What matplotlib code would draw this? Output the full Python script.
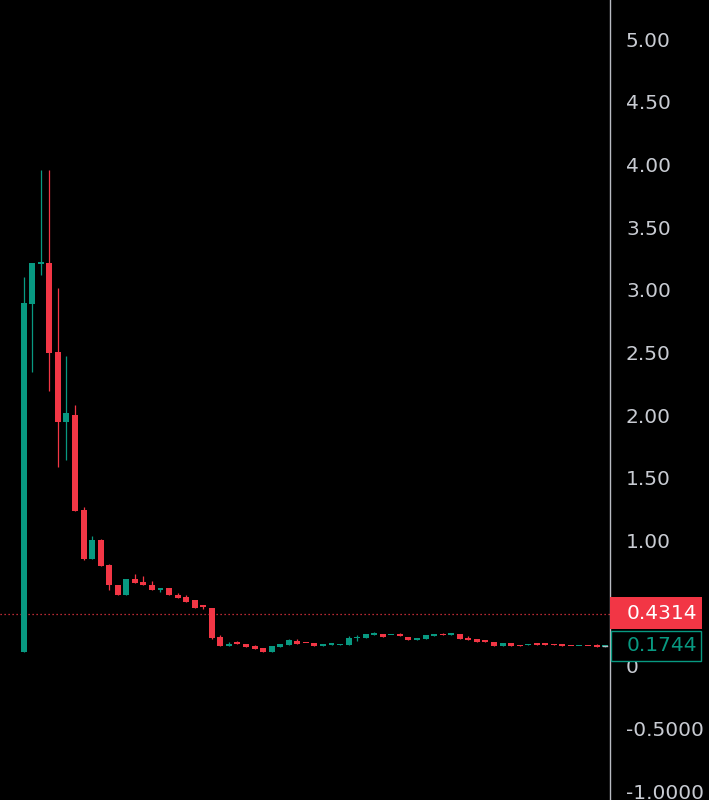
import matplotlib
matplotlib.use("Agg")
import matplotlib.pyplot as plt
from matplotlib.patches import Rectangle
from matplotlib.lines import Line2D
from matplotlib.transforms import blended_transform_factory, ScaledTranslation

# ---- data (OHLC per candle) ----
opens = [0.13, 2.90, 3.22, 3.23, 2.52, 1.96, 2.02, 1.26, 0.87, 1.02,
         0.82, 0.665, 0.58, 0.71, 0.685, 0.66, 0.62, 0.64, 0.585, 0.565,
         0.54, 0.493, 0.48, 0.245, 0.175, 0.20, 0.195, 0.175, 0.16, 0.128,
         0.17, 0.183, 0.218, 0.203, 0.20, 0.178, 0.186, 0.18, 0.186, 0.238,
         0.236, 0.266, 0.268, 0.26, 0.262, 0.25, 0.22, 0.234, 0.258, 0.265,
         0.263, 0.268, 0.24, 0.228, 0.215, 0.21, 0.173, 0.20, 0.18, 0.18,
         0.192, 0.192, 0.185, 0.18, 0.178, 0.174, 0.178, 0.175, 0.171]
highs = [3.12, 3.23, 3.97, 3.97, 3.03, 2.49, 2.10, 1.28, 1.05, 1.03,
         0.83, 0.665, 0.71, 0.75, 0.73, 0.69, 0.64, 0.64, 0.595, 0.58,
         0.54, 0.505, 0.48, 0.26, 0.21, 0.215, 0.195, 0.18, 0.16, 0.173,
         0.195, 0.23, 0.23, 0.203, 0.20, 0.182, 0.20, 0.195, 0.255, 0.26,
         0.268, 0.283, 0.268, 0.265, 0.275, 0.25, 0.24, 0.26, 0.262, 0.28,
         0.268, 0.268, 0.255, 0.228, 0.215, 0.21, 0.20, 0.20, 0.18, 0.19,
         0.192, 0.192, 0.195, 0.18, 0.178, 0.178, 0.178, 0.19, 0.18]
lows = [0.13, 2.36, 3.13, 2.21, 1.60, 1.66, 1.25, 0.86, 0.87, 0.81,
        0.62, 0.58, 0.58, 0.675, 0.66, 0.62, 0.605, 0.58, 0.56, 0.53,
        0.48, 0.47, 0.23, 0.175, 0.175, 0.19, 0.17, 0.155, 0.125, 0.128,
        0.17, 0.183, 0.19, 0.197, 0.175, 0.178, 0.183, 0.18, 0.186, 0.215,
        0.236, 0.26, 0.245, 0.26, 0.257, 0.22, 0.22, 0.234, 0.258, 0.26,
        0.263, 0.234, 0.223, 0.21, 0.21, 0.173, 0.173, 0.173, 0.175, 0.18,
        0.187, 0.187, 0.18, 0.176, 0.174, 0.174, 0.174, 0.165, 0.171]
closes = [2.91, 3.23, 3.24, 2.51, 1.96, 2.03, 1.25, 0.87, 1.02, 0.81,
          0.66, 0.58, 0.71, 0.675, 0.66, 0.62, 0.64, 0.58, 0.56, 0.53,
          0.48, 0.487, 0.235, 0.175, 0.195, 0.195, 0.17, 0.155, 0.125, 0.173,
          0.195, 0.22, 0.19, 0.197, 0.175, 0.182, 0.19, 0.195, 0.24, 0.242,
          0.268, 0.27, 0.245, 0.265, 0.257, 0.22, 0.24, 0.26, 0.262, 0.26,
          0.268, 0.234, 0.223, 0.21, 0.21, 0.173, 0.20, 0.173, 0.175, 0.19,
          0.187, 0.187, 0.18, 0.176, 0.174, 0.178, 0.174, 0.171, 0.1744]

# the 0.5000 label sits under the red price tag in the reference, so it is not shown
tick_values = [-1.0, -0.5, 0.0, 1.0, 1.5, 2.0, 2.5, 3.0, 3.5, 4.0, 4.5, 5.0]
tick_labels = ["-1.0000", "-0.5000", "0", "1.00", "1.50", "2.00",
               "2.50", "3.00", "3.50", "4.00", "4.50", "5.00"]

line_price = 0.4314
last_price = 0.1744

UP = "#089981"
DOWN = "#f23645"
BG = "#000000"
TXT = "#c8cbd2"

fig = plt.figure(figsize=(7.09, 8.0), dpi=100, facecolor=BG)
ax = fig.add_axes([0, 0, 610 / 709, 1.0])
ax.set_facecolor(BG)

n = len(opens)
xs = list(range(n))
min_h = 0.012
for i in xs:
    o, h, l, c = opens[i], highs[i], lows[i], closes[i]
    col = UP if c >= o else DOWN
    ax.vlines(i, l, h, color=col, linewidth=0.9, zorder=2)
    bottom = min(o, c)
    height = max(abs(c - o), min_h)
    ax.bar(i, height, bottom=bottom, width=0.7, color=col, linewidth=0, zorder=3)

ax.set_xlim(-2.77, 68.57)
ax.set_ylim(-1.053, 5.327)

# dotted price line
ax.axhline(line_price, color=DOWN, linewidth=0.9, linestyle=(0, (1, 2.2)), zorder=1)

# axis styling
for s in ["top", "left", "bottom"]:
    ax.spines[s].set_visible(False)
ax.spines["right"].set_color("#b8bbc2")
ax.spines["right"].set_linewidth(1.0)
ax.set_xticks([])
ax.yaxis.tick_right()
ax.set_yticks(tick_values)
ax.set_yticklabels(tick_labels)
ax.tick_params(axis="y", length=0, pad=11.5, labelsize=14.5, labelcolor=TXT)
shift = ScaledTranslation(0, 2 / 100, fig.dpi_scale_trans)
for lab in ax.get_yticklabels():
    lab.set_transform(lab.get_transform() + shift)

# price labels on the scale
tr = blended_transform_factory(ax.transAxes, ax.transData)
x1 = 701.7 / 610.0
ax.add_patch(Rectangle((1.0, line_price - 0.1225), x1 - 1.0, 0.255,
                       transform=tr, facecolor=DOWN, edgecolor="none",
                       clip_on=False, zorder=10))
ax.text(627 / 610.0, line_price + 0.003, f"{line_price:.4f}", transform=tr,
        color="white", fontsize=14.5, fontweight="medium",
        ha="left", va="center", clip_on=False, zorder=11)

ax.add_patch(Rectangle((1.0 + 1 / 610, last_price - 0.122), x1 - 1.0 - 2 / 610, 0.244,
                       transform=tr, facecolor=BG, edgecolor=UP, linewidth=1.0,
                       clip_on=False, zorder=10))
ax.text(627 / 610.0, last_price + 0.003, f"{last_price:.4f}", transform=tr,
        color=UP, fontsize=14.5, ha="left", va="center", clip_on=False, zorder=11)
ax.add_line(Line2D([603 / 610, 607 / 610], [last_price, last_price], transform=tr,
                   color="#b8bbc2", linewidth=1.0, clip_on=False, zorder=11))

fig.savefig("out.png", dpi=100, facecolor=BG)
